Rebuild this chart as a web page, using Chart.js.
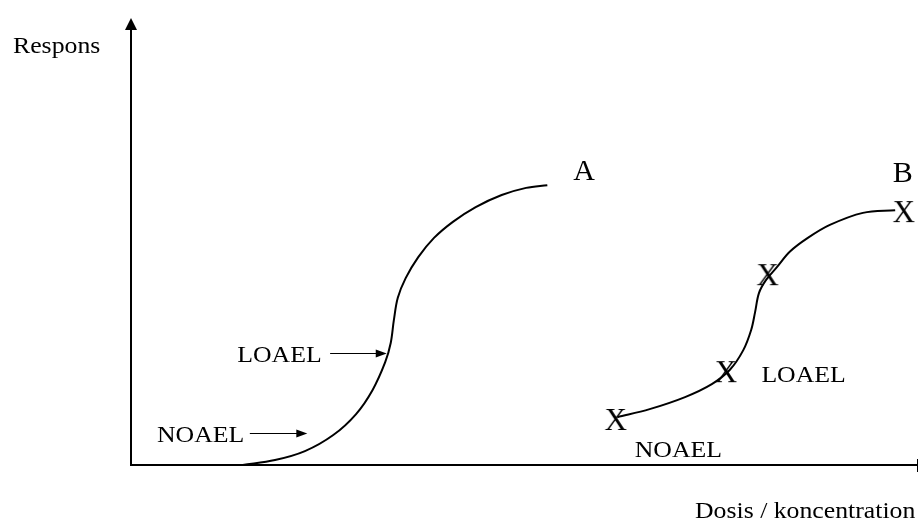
<!DOCTYPE html>
<html>
<head>
<meta charset="utf-8">
<script src="https://cdn.jsdelivr.net/npm/chart.js@4.4.1/dist/chart.umd.min.js"></script>
<style>
  html, body { margin: 0; padding: 0; background: #fff; overflow: hidden; }
  #wrap { width: 919px; height: 522px; position: relative; }
  canvas { display: block; }
</style>
</head>
<body>
<div id="wrap"><canvas id="chart"></canvas></div>
<script>
// curve A (dose 0-100, response 0-100)
const doseA = [14.2, 18.3, 22.1, 25.7, 28.6, 30.7, 32.3, 33.0, 33.4, 33.9, 34.9, 36.5, 38.5, 40.9, 43.8, 47.1, 50.2, 52.9];
const respA = [0, 1.1, 3.1, 6.7, 11.4, 16.8, 23.0, 27.3, 32.4, 37.4, 41.8, 46.5, 50.8, 54.4, 57.7, 60.4, 62.0, 62.6];

// curve B
const doseB = [61.8, 65.9, 70.4, 73.8, 76.1, 77.8, 78.8, 79.3, 79.8, 80.7, 82.1, 83.7, 86.0, 88.8, 93.0, 97.1];
const respB = [10.7, 12.5, 15.2, 18.1, 21.3, 25.7, 30.2, 34.2, 38.5, 41.4, 44.3, 47.7, 50.8, 53.7, 56.4, 57.0];

// measured points on B (X marks)
const markDose = [61.6, 75.6, 80.9, 98.2];
const markResp = [10.3, 21.0, 42.7, 56.8];

const yTitle = 'Respons';
const xTitle = 'Dosis / koncentration';

// text notes, placed in data units
const notes = [
    { text: 'A', x: 56.2, y: 63.8, size: 30, sx: 1 },
    { text: 'B', x: 96.8, y: 63.3, size: 30, sx: 1 },
    { text: 'LOAEL', x: 13.5, y: 23.0, size: 23, sx: 1.12 },
    { text: 'NOAEL', x: 3.3, y: 5.1, size: 23, sx: 1.12 },
    { text: 'NOAEL', x: 64.0, y: 1.8, size: 23, sx: 1.12 },
    { text: 'LOAEL', x: 80.1, y: 18.6, size: 23, sx: 1.12 }
];
const arrows = [
    { x0: 15.1, x1: 22.4, y: 7.2 },
    { x0: 25.3, x1: 32.5, y: 25.1 }
];

function toXY(xs, ys) {
    return xs.map((x, i) => ({ x: x, y: ys[i] }));
}

// serif "X" glyph used as the point style
function makeX() {
    const c = document.createElement('canvas');
    c.width = 28;
    c.height = 28;
    const g = c.getContext('2d');
    g.fillStyle = '#000';
    g.font = '31px "Liberation Serif"';
    g.textAlign = 'center';
    g.textBaseline = 'alphabetic';
    g.fillText('X', 14, 14 + 10.5);
    return c;
}

function drawText(ctx, text, x, y, size, sx) {
    ctx.save();
    ctx.translate(x, y);
    ctx.scale(sx, 1);
    ctx.font = size + 'px "Liberation Serif"';
    ctx.fillStyle = '#000';
    ctx.textAlign = 'left';
    ctx.textBaseline = 'alphabetic';
    ctx.fillText(text, 0, 0);
    ctx.restore();
}

const sketch = {
    id: 'sketch',
    beforeDatasetsDraw(chart) {
        const ctx = chart.ctx;
        const a = chart.chartArea;
        ctx.save();
        ctx.strokeStyle = '#000';
        ctx.fillStyle = '#000';
        ctx.lineWidth = 2;
        // y axis with arrow
        ctx.beginPath();
        ctx.moveTo(a.left, a.bottom + 1);
        ctx.lineTo(a.left, a.top + 10);
        ctx.stroke();
        ctx.beginPath();
        ctx.moveTo(a.left, a.top);
        ctx.lineTo(a.left - 6, a.top + 12);
        ctx.lineTo(a.left + 6, a.top + 12);
        ctx.closePath();
        ctx.fill();
        // x axis
        ctx.beginPath();
        ctx.moveTo(a.left, a.bottom);
        ctx.lineTo(a.right, a.bottom);
        ctx.stroke();
        ctx.lineWidth = 1;
        ctx.beginPath();
        ctx.moveTo(a.right - 0.5, a.bottom - 6);
        ctx.lineTo(a.right - 0.5, a.bottom + 7);
        ctx.stroke();
        ctx.restore();
    },
    afterDatasetsDraw(chart) {
        const ctx = chart.ctx;
        const a = chart.chartArea;
        const sx = chart.scales.x;
        const sy = chart.scales.y;
        notes.forEach(n => {
            drawText(ctx, n.text, sx.getPixelForValue(n.x), sy.getPixelForValue(n.y), n.size, n.sx);
        });
        ctx.save();
        ctx.strokeStyle = '#000';
        ctx.fillStyle = '#000';
        ctx.lineWidth = 1;
        arrows.forEach(ar => {
            const x0 = sx.getPixelForValue(ar.x0);
            const x1 = sx.getPixelForValue(ar.x1);
            const y = Math.round(sy.getPixelForValue(ar.y)) + 0.5;
            ctx.beginPath();
            ctx.moveTo(x0, y);
            ctx.lineTo(x1 - 9, y);
            ctx.stroke();
            ctx.beginPath();
            ctx.moveTo(x1, y);
            ctx.lineTo(x1 - 11, y - 4);
            ctx.lineTo(x1 - 11, y + 4);
            ctx.closePath();
            ctx.fill();
        });
        ctx.restore();
        drawText(ctx, yTitle, 13, 53, 23, 1.12);
        drawText(ctx, xTitle, 695, a.bottom + 53, 23, 1.12);
    }
};

new Chart(document.getElementById('chart'), {
    type: 'scatter',
    data: {
        datasets: [{
            label: 'X',
            data: toXY(markDose, markResp),
            pointStyle: makeX(),
            pointRadius: 14,
            showLine: false,
            clip: false,
            order: 0
        }, {
            label: 'A',
            data: toXY(doseA, respA),
            showLine: true,
            borderColor: '#000',
            borderWidth: 2,
            pointRadius: 0,
            tension: 0.35,
            clip: false,
            order: 1
        }, {
            label: 'B',
            data: toXY(doseB, respB),
            showLine: true,
            borderColor: '#000',
            borderWidth: 2,
            pointRadius: 0,
            tension: 0.35,
            clip: false,
            order: 1
        }]
    },
    options: {
        responsive: true,
        maintainAspectRatio: false,
        animation: false,
        layout: { autoPadding: false, padding: { left: 131, top: 18, right: 1, bottom: 57 } },
        plugins: { legend: { display: false }, tooltip: { enabled: false } },
        scales: {
            x: { type: 'linear', min: 0, max: 100, display: false },
            y: { type: 'linear', min: 0, max: 100, display: false }
        }
    },
    plugins: [sketch]
});
</script>
</body>
</html>
